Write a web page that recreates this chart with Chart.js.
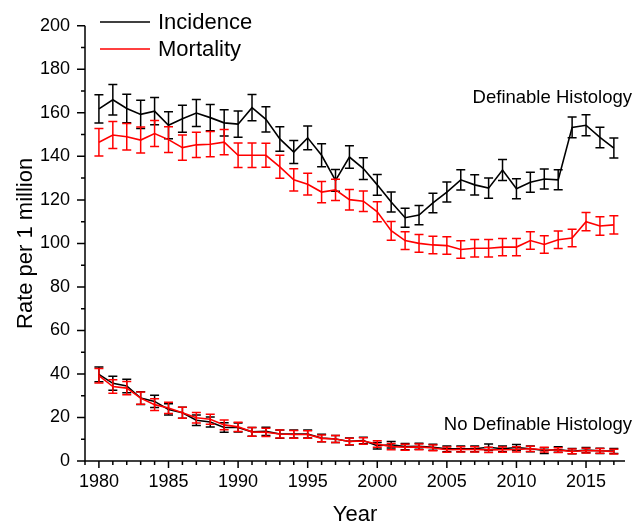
<!DOCTYPE html>
<html>
<head>
<meta charset="utf-8">
<script src="https://cdn.jsdelivr.net/npm/chart.js@4/dist/chart.umd.min.js"></script>
<style>
html,body{margin:0;padding:0;background:#fff;}
#wrap{width:635px;height:529px;position:relative;}
</style>
</head>
<body>
<div id="wrap"><canvas id="c"></canvas></div>
<script>
// ---- Data ----
const years = [1980,1981,1982,1983,1984,1985,1986,1987,1988,1989,1990,1991,1992,1993,1994,1995,1996,1997,1998,1999,2000,2001,2002,2003,2004,2005,2006,2007,2008,2009,2010,2011,2012,2013,2014,2015,2016,2017];

const incidenceDH = [161.8,166,162,159.3,160.8,154.3,157.3,159.9,157.8,155.4,154.8,162.4,157,148,142,148.5,140.5,129,139.7,134.4,126.9,119,111.8,113,118.6,123.6,129.2,126.9,125.4,133.7,125.1,128.1,129.6,129.2,153.3,154.3,148.7,143.8];
const incidenceDHErr = [6.5,7,6.5,6.5,6.3,6.2,6.2,6.2,6.0,6.0,6.0,6.0,5.8,5.6,5.3,5.5,5.3,5.0,5.2,5.0,4.8,4.6,4.4,4.4,4.5,4.6,4.7,4.6,4.6,4.8,4.6,4.6,4.6,4.6,4.8,4.8,4.7,4.6];

const mortalityDH = [146.5,149.8,149,147.5,150.5,147.7,144,145.3,145.6,146.5,140.5,140.5,140.5,135.2,129.2,127.2,123.6,124.6,120.1,119.4,114.5,105.8,101.3,100,99.3,99,97.2,97.8,97.8,98.3,98.3,101.3,99.5,101.7,102.5,110,108,108.5];
const mortalityDHErr = [6.3,6.2,6.1,6.0,6.0,5.9,5.8,5.8,5.8,5.8,5.6,5.6,5.5,5.3,5.1,5.0,4.9,4.9,4.7,4.7,4.6,4.3,4.1,4.1,4.0,4.0,4.0,4.0,4.0,4.0,4.0,4.0,4.0,4.0,4.0,4.2,4.2,4.2];

const incidenceNDH = [39.8,35.7,34.5,28.9,27.4,23.7,22.2,18.7,17.9,15.4,15.4,13.4,13.6,12.4,12.4,12.4,10.6,10.1,9.0,9.4,7.0,7.5,6.6,6.8,6.3,5.6,5.6,5.6,6.3,5.6,6.2,5.6,4.8,5.3,4.5,5.0,4.7,4.6];
const incidenceNDHErr = [3.4,3.2,3.1,2.9,2.8,2.6,2.5,2.4,2.3,2.2,2.1,2.0,1.9,1.9,1.8,1.8,1.7,1.6,1.6,1.5,1.5,1.5,1.4,1.4,1.4,1.3,1.3,1.3,1.5,1.3,1.4,1.3,1.3,1.3,1.2,1.2,1.2,1.2];

const mortalityNDH = [39.2,34.2,33.5,28.9,25.9,24.4,22.2,19.9,19.2,16.6,15.7,13.4,13.2,12.4,12.2,12.2,10.4,10.1,9.0,9.2,7.8,6.6,6.3,6.5,6.0,5.2,5.3,5.3,5.1,5.2,5.3,5.6,5.2,5.0,4.4,4.8,4.7,4.3];
const mortalityNDHErr = [3.3,3.1,3.0,2.8,2.7,2.6,2.5,2.4,2.3,2.2,2.1,2.0,1.9,1.8,1.8,1.7,1.6,1.6,1.5,1.5,1.5,1.4,1.4,1.3,1.3,1.2,1.2,1.2,1.2,1.2,1.2,1.2,1.1,1.1,1.1,1.1,1.1,1.1];

const legendLabels = ['Incidence','Mortality'];
const legendColors = ['#000000','#ff0000'];
const groupLabels = ['Definable Histology','No Definable Histology'];
const xTitle = 'Year';
const yTitle = 'Rate per 1 million';

// ---- Chart ----
const FONT = '"Liberation Sans", Arial, Helvetica, sans-serif';
const pts = (vals) => years.map((yr, i) => ({x: yr, y: vals[i]}));

function series(label, vals, errs, color, order) {
  return {
    label: label, data: pts(vals), errors: errs,
    borderColor: color, backgroundColor: color,
    borderWidth: 1.6, pointRadius: 0, tension: 0, fill: false, order: order
  };
}

const errorBarsPlugin = {
  id: 'errorBars',
  beforeDatasetDraw(chart, args) {
    const ds = chart.data.datasets[args.index];
    if (!ds.errors) return;
    const ys = chart.scales.y;
    const ctx = chart.ctx;
    ctx.save();
    ctx.strokeStyle = ds.borderColor;
    ctx.lineWidth = 1.5;
    args.meta.data.forEach((el, i) => {
      const v = ds.data[i].y, e = ds.errors[i];
      const x = el.x;
      const yt = ys.getPixelForValue(v + e);
      const yb = ys.getPixelForValue(v - e);
      ctx.beginPath();
      ctx.moveTo(x, yt); ctx.lineTo(x, yb);
      ctx.moveTo(x - 4.5, yt); ctx.lineTo(x + 4.5, yt);
      ctx.moveTo(x - 4.5, yb); ctx.lineTo(x + 4.5, yb);
      ctx.stroke();
    });
    ctx.restore();
  }
};

const axesPlugin = {
  id: 'axesDecor',
  afterDraw(chart) {
    const ctx = chart.ctx;
    const xs = chart.scales.x, ys = chart.scales.y;
    const a = chart.chartArea;
    ctx.save();
    ctx.strokeStyle = '#000';
    ctx.lineWidth = 1.5;
    // axis lines
    ctx.beginPath();
    ctx.moveTo(a.left, a.top); ctx.lineTo(a.left, a.bottom);
    ctx.moveTo(a.left - 0.75, a.bottom); ctx.lineTo(a.right, a.bottom);
    ctx.stroke();
    // x ticks (major every 5 years, minor every year)
    ctx.beginPath();
    for (let yr = Math.ceil(xs.min); yr <= xs.max; yr++) {
      const x = xs.getPixelForValue(yr);
      const len = (yr % 5 === 0) ? 7 : 4;
      ctx.moveTo(x, a.bottom); ctx.lineTo(x, a.bottom + len);
    }
    // y ticks (major every 20, minor every 10)
    for (let v = ys.min; v <= ys.max; v += 10) {
      const y = ys.getPixelForValue(v);
      const len = (v % 20 === 0) ? 8 : 4;
      ctx.moveTo(a.left - len, y); ctx.lineTo(a.left, y);
    }
    ctx.stroke();

    // legend
    ctx.font = '22px ' + FONT;
    ctx.textBaseline = 'middle';
    ctx.textAlign = 'left';
    const ly = [22, 49];
    legendLabels.forEach((lab, i) => {
      ctx.strokeStyle = legendColors[i];
      ctx.lineWidth = 1.6;
      ctx.beginPath();
      ctx.moveTo(100, ly[i]); ctx.lineTo(150, ly[i]);
      ctx.stroke();
      ctx.fillStyle = '#000';
      ctx.fillText(lab, 158, ly[i] + 1);
    });

    // group annotations
    ctx.font = '18.5px ' + FONT;
    ctx.textAlign = 'right';
    ctx.textBaseline = 'alphabetic';
    ctx.fillStyle = '#000';
    ctx.fillText(groupLabels[0], 632, 102.5);
    ctx.fillText(groupLabels[1], 632, 429.5);
    ctx.restore();
  }
};

new Chart(document.getElementById('c'), {
  type: 'line',
  data: {
    datasets: [
      series(legendLabels[0], incidenceDH, incidenceDHErr, legendColors[0], 1),
      series(legendLabels[1], mortalityDH, mortalityDHErr, legendColors[1], 0),
      series(legendLabels[0], incidenceNDH, incidenceNDHErr, legendColors[0], 1),
      series(legendLabels[1], mortalityNDH, mortalityNDHErr, legendColors[1], 0)
    ]
  },
  options: {
    responsive: true,
    maintainAspectRatio: false,
    animation: false,
    devicePixelRatio: 1,
    layout: {padding: {left: 0, right: 5.5, top: 18, bottom: 0}},
    plugins: {legend: {display: false}, tooltip: {enabled: false}},
    scales: {
      x: {
        type: 'linear', min: 1979, max: 2017.8,
        grid: {display: false, drawTicks: false},
        border: {display: false},
        ticks: {
          stepSize: 1, autoSkip: false, maxRotation: 0, padding: 10,
          color: '#000', font: {family: FONT, size: 18},
          callback: (v) => (Number.isInteger(v) && v % 5 === 0) ? String(v) : ''
        },
        title: {display: true, text: xTitle, color: '#000',
                font: {family: FONT, size: 22}, padding: {top: 0, bottom: 1}},
        afterFit: (s) => { s.height = 68; }
      },
      y: {
        type: 'linear', min: 0, max: 200,
        grid: {display: false, drawTicks: false},
        border: {display: false},
        ticks: {stepSize: 20, padding: 15, color: '#000', font: {family: FONT, size: 18}},
        title: {display: true, text: yTitle, color: '#000',
                font: {family: FONT, size: 22}, padding: {top: 13, bottom: 0}},
        afterFit: (s) => { s.width = 85; }
      }
    }
  },
  plugins: [errorBarsPlugin, axesPlugin]
});
</script>
</body>
</html>
